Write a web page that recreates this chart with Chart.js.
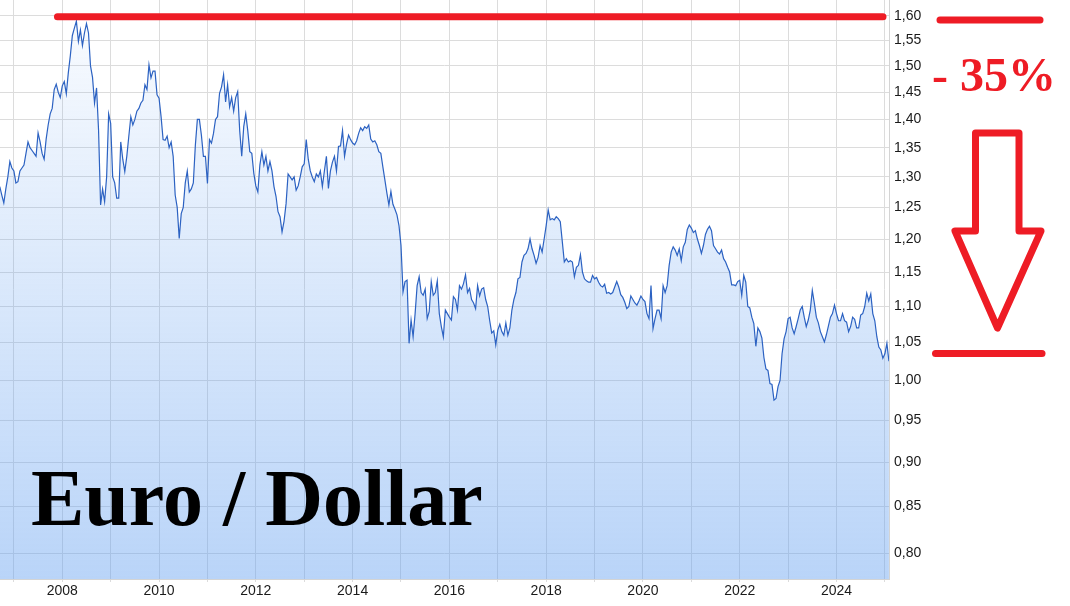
<!DOCTYPE html>
<html>
<head>
<meta charset="utf-8">
<title>Euro / Dollar</title>
<script src="https://cdn.jsdelivr.net/npm/chart.js@4.4.1/dist/chart.umd.min.js"></script>
<style>
  html, body { margin: 0; padding: 0; background: #fff; }
  #wrap { position: relative; width: 1070px; height: 606px; overflow: hidden; }
  #chart { position: absolute; left: 0; top: 0; }
  .note { position: absolute; font-family: "Liberation Serif", "Times New Roman", serif; font-weight: bold; white-space: nowrap; }
  #title { left: 31px; top: 458px; font-size: 80px; line-height: 80px; color: #000; }
  #drop { left: 932px; top: 51px; font-size: 48px; line-height: 48px; color: #ee1c25; }
</style>
</head>
<body>
<div id="wrap">
  <canvas id="chart" width="1070" height="606"></canvas>
  <div class="note" id="title">Euro / Dollar</div>
  <div class="note" id="drop">- 35%</div>
</div>
<script>
// EUR/USD, two readings per month (half-month steps)
const r2006 = [1.284, 1.27, 1.257, 1.28, 1.30, 1.326, 1.315]; // from mid-Sep 2006
const r2007 = [1.31, 1.29, 1.292, 1.31, 1.315, 1.32, 1.34, 1.36, 1.35, 1.345, 1.34, 1.335, 1.376, 1.36, 1.34, 1.33, 1.365, 1.39, 1.41, 1.42, 1.455, 1.465, 1.45, 1.44];
const r2008 = [1.462, 1.47, 1.447, 1.487, 1.52, 1.56, 1.575, 1.589, 1.548, 1.571, 1.54, 1.565, 1.584, 1.565, 1.50, 1.478, 1.43, 1.458, 1.38, 1.254, 1.28, 1.259, 1.30, 1.41];
const r2009 = [1.393, 1.30, 1.29, 1.265, 1.265, 1.36, 1.33, 1.309, 1.335, 1.37, 1.405, 1.39, 1.40, 1.415, 1.42, 1.43, 1.435, 1.464, 1.455, 1.502, 1.477, 1.49, 1.49, 1.445];
const r2010 = [1.439, 1.405, 1.364, 1.363, 1.37, 1.35, 1.36, 1.335, 1.27, 1.25, 1.201, 1.24, 1.25, 1.29, 1.31, 1.275, 1.28, 1.29, 1.354, 1.40, 1.40, 1.372, 1.335, 1.335];
const r2011 = [1.289, 1.364, 1.358, 1.375, 1.40, 1.405, 1.448, 1.46, 1.483, 1.432, 1.464, 1.423, 1.44, 1.415, 1.44, 1.451, 1.38, 1.335, 1.387, 1.41, 1.38, 1.343, 1.34, 1.306];
const r2012 = [1.285, 1.275, 1.32, 1.343, 1.32, 1.335, 1.31, 1.326, 1.31, 1.284, 1.268, 1.243, 1.235, 1.211, 1.228, 1.256, 1.305, 1.30, 1.295, 1.30, 1.278, 1.285, 1.30, 1.317];
const r2013 = [1.322, 1.364, 1.33, 1.31, 1.30, 1.292, 1.305, 1.30, 1.31, 1.284, 1.31, 1.335, 1.281, 1.31, 1.325, 1.335, 1.31, 1.352, 1.353, 1.38, 1.335, 1.356, 1.372, 1.364];
const r2014 = [1.358, 1.355, 1.362, 1.375, 1.385, 1.38, 1.387, 1.384, 1.39, 1.365, 1.36, 1.362, 1.355, 1.343, 1.34, 1.317, 1.295, 1.273, 1.254, 1.276, 1.255, 1.247, 1.238, 1.221];
const r2015 = [1.19, 1.121, 1.136, 1.138, 1.049, 1.081, 1.058, 1.09, 1.13, 1.143, 1.12, 1.116, 1.125, 1.083, 1.093, 1.136, 1.116, 1.12, 1.137, 1.09, 1.072, 1.058, 1.095, 1.09];
const r2016 = [1.085, 1.081, 1.114, 1.11, 1.095, 1.13, 1.125, 1.133, 1.146, 1.12, 1.126, 1.11, 1.105, 1.097, 1.13, 1.115, 1.125, 1.127, 1.11, 1.10, 1.08, 1.063, 1.066, 1.047];
const r2017 = [1.067, 1.075, 1.065, 1.06, 1.077, 1.06, 1.07, 1.095, 1.11, 1.12, 1.14, 1.142, 1.165, 1.175, 1.178, 1.185, 1.20, 1.185, 1.175, 1.163, 1.172, 1.19, 1.18, 1.20];
const r2018 = [1.221, 1.246, 1.23, 1.232, 1.23, 1.235, 1.232, 1.227, 1.196, 1.165, 1.17, 1.165, 1.167, 1.165, 1.143, 1.157, 1.16, 1.176, 1.15, 1.14, 1.137, 1.135, 1.135, 1.145];
const r2019 = [1.14, 1.142, 1.135, 1.13, 1.128, 1.132, 1.119, 1.12, 1.118, 1.12, 1.128, 1.136, 1.128, 1.117, 1.113, 1.106, 1.097, 1.10, 1.115, 1.11, 1.105, 1.102, 1.108, 1.115];
const r2020 = [1.11, 1.107, 1.09, 1.083, 1.13, 1.069, 1.083, 1.095, 1.095, 1.083, 1.13, 1.12, 1.13, 1.16, 1.18, 1.188, 1.183, 1.175, 1.185, 1.167, 1.188, 1.195, 1.215, 1.222];
const r2021 = [1.217, 1.21, 1.213, 1.20, 1.19, 1.178, 1.19, 1.207, 1.215, 1.22, 1.213, 1.19, 1.185, 1.18, 1.177, 1.183, 1.17, 1.165, 1.157, 1.15, 1.131, 1.131, 1.13, 1.136];
const r2022 = [1.138, 1.116, 1.145, 1.135, 1.10, 1.098, 1.085, 1.076, 1.045, 1.07, 1.065, 1.056, 1.03, 1.015, 1.013, 0.996, 0.995, 0.975, 0.977, 0.992, 1.00, 1.035, 1.055, 1.065];
const r2023 = [1.083, 1.085, 1.07, 1.062, 1.072, 1.083, 1.095, 1.10, 1.085, 1.072, 1.081, 1.095, 1.123, 1.105, 1.085, 1.077, 1.065, 1.058, 1.051, 1.061, 1.073, 1.085, 1.09, 1.102];
const r2024 = [1.09, 1.08, 1.08, 1.09, 1.08, 1.078, 1.065, 1.072, 1.085, 1.082, 1.07, 1.07, 1.088, 1.09, 1.10, 1.119, 1.108, 1.118, 1.09, 1.08, 1.058, 1.044, 1.04, 1.029];
const r2025 = [1.035, 1.049, 1.025];

// year, first half-month slot, readings
const yearRows = [
  [2006, 17, r2006], [2007, 0, r2007], [2008, 0, r2008], [2009, 0, r2009], [2010, 0, r2010],
  [2011, 0, r2011], [2012, 0, r2012], [2013, 0, r2013], [2014, 0, r2014], [2015, 0, r2015],
  [2016, 0, r2016], [2017, 0, r2017], [2018, 0, r2018], [2019, 0, r2019], [2020, 0, r2020],
  [2021, 0, r2021], [2022, 0, r2022], [2023, 0, r2023], [2024, 0, r2024], [2025, 0, r2025]
];

const gridYears = [2007, 2008, 2009, 2010, 2011, 2012, 2013, 2014, 2015, 2016, 2017, 2018, 2019, 2020, 2021, 2022, 2023, 2024, 2025];
const yearLabels = [2008, 2010, 2012, 2014, 2016, 2018, 2020, 2022, 2024];
const yTicks = [0.80, 0.85, 0.90, 0.95, 1.00, 1.05, 1.10, 1.15, 1.20, 1.25, 1.30, 1.35, 1.40, 1.45, 1.50, 1.55, 1.60];

const xMin = 2006.713, xMax = 2025.085;
const yMin = 0.7742, yMax = 1.633;
const peakRate = 1.60;
const markRed = '#ee1c25';
const axisFont = { family: '"Liberation Sans", Arial, sans-serif', size: 14 };

const points = [];
yearRows.forEach(([year, first, vals]) => {
  vals.forEach((v, i) => points.push({ x: year + (first + i) / 24, y: v }));
});

// red hand-drawn marks: peak line, level bars and arrow
const redMarks = {
  id: 'redMarks',
  afterDraw(chart){
    const { ctx, chartArea: a, scales: { x, y } } = chart;
    ctx.save();
    ctx.strokeStyle = markRed;
    ctx.lineWidth = 7;
    ctx.lineCap = 'round';
    ctx.lineJoin = 'round';
    const seg = (x1, y1, x2, y2) => { ctx.beginPath(); ctx.moveTo(x1, y1); ctx.lineTo(x2, y2); ctx.stroke(); };
    const yPeak = y.getPixelForValue(peakRate) + 1;
    seg(x.getPixelForValue(2007.9), yPeak, a.right - 6, yPeak);
    seg(940, 20, 1040, 20);
    seg(935.5, 353.5, 1042, 353.5);
    // down arrow outline
    ctx.beginPath();
    ctx.moveTo(975.5, 133);
    ctx.lineTo(1019, 133);
    ctx.lineTo(1019, 231);
    ctx.lineTo(1041, 231);
    ctx.lineTo(997.5, 328);
    ctx.lineTo(955, 231);
    ctx.lineTo(975.5, 231);
    ctx.closePath();
    ctx.stroke();
    ctx.restore();
  }
};

const ctx = document.getElementById('chart').getContext('2d');
new Chart(ctx, {
  type: 'line',
  data: {
    datasets: [{
      data: points,
      borderColor: '#2c62c2',
      borderWidth: 1.2,
      pointRadius: 0,
      tension: 0,
      fill: 'start',
      backgroundColor: (c) => {
        const a = c.chart.chartArea;
        if(!a) return 'rgba(100,160,240,0.25)';
        const g = c.chart.ctx.createLinearGradient(0, a.top, 0, a.bottom);
        g.addColorStop(0, 'rgba(100,160,240,0.03)');
        g.addColorStop(1, 'rgba(100,160,240,0.45)');
        return g;
      }
    }]
  },
  options: {
    responsive: false,
    animation: false,
    devicePixelRatio: 1,
    layout: { padding: 0 },
    plugins: { legend: { display: false }, tooltip: { enabled: false } },
    scales: {
      x: {
        type: 'linear', position: 'bottom', min: xMin, max: xMax,
        afterBuildTicks: s => { s.ticks = gridYears.map(v => ({ value: v })); },
        afterFit: s => { s.height = 27; s.paddingLeft = 0; s.paddingRight = 0; },
        grid: { color: '#dcdcdc', lineWidth: 1, tickLength: 3 },
        border: { color: '#d4d4d4' },
        ticks: {
          autoSkip: false, maxRotation: 0, padding: 1, color: '#1a1a1a', font: axisFont,
          callback: v => yearLabels.includes(v) ? String(v) : ''
        }
      },
      y: {
        type: 'logarithmic', position: 'right', min: yMin, max: yMax,
        afterBuildTicks: s => { s.ticks = yTicks.map(v => ({ value: v })); },
        afterFit: s => { s.width = 181; s.paddingTop = 0; s.paddingBottom = 0; },
        grid: { color: '#dcdcdc', lineWidth: 1, drawTicks: false },
        border: { color: '#d4d4d4' },
        ticks: {
          padding: 5, color: '#1a1a1a', font: axisFont,
          callback: v => Number(v).toFixed(2).replace('.', ',')
        }
      }
    }
  },
  plugins: [redMarks]
});
</script>
</body>
</html>
